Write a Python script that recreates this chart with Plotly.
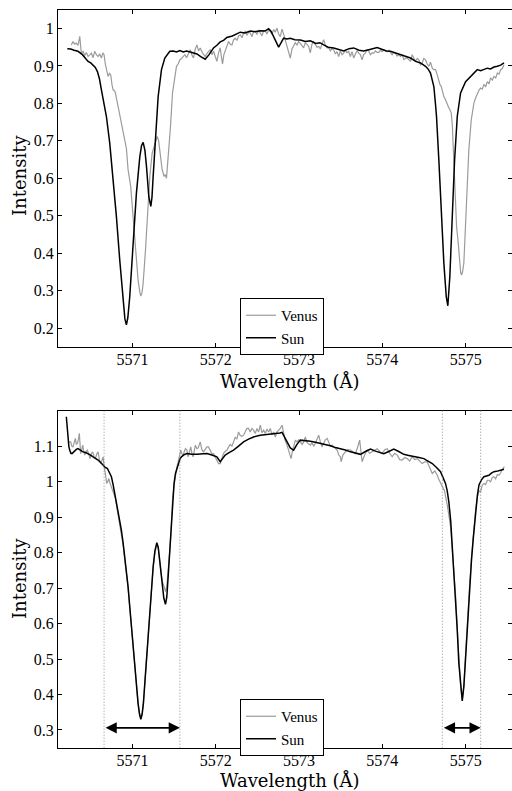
import plotly.graph_objects as go

# ---------------- data ----------------
TOP_SUN_WL = [5570.219, 5570.26, 5570.30, 5570.347, 5570.40, 5570.44, 5570.468, 5570.50, 5570.528, 5570.555,
              5570.580, 5570.605, 5570.628, 5570.660, 5570.688, 5570.728, 5570.768, 5570.808, 5570.848, 5570.888,
              5570.910, 5570.928, 5570.945, 5570.968, 5571.008, 5571.048, 5571.089, 5571.110, 5571.129, 5571.150,
              5571.169, 5571.197, 5571.221, 5571.235, 5571.249, 5571.277, 5571.309, 5571.349, 5571.389, 5571.449,
              5571.489, 5571.53, 5571.57, 5571.61, 5571.65, 5571.694, 5571.733, 5571.774, 5571.82, 5571.874,
              5571.92, 5571.974, 5572.014, 5572.054, 5572.094, 5572.134, 5572.20, 5572.25, 5572.294, 5572.35,
              5572.415, 5572.47, 5572.535, 5572.59, 5572.635, 5572.665, 5572.695, 5572.725, 5572.755, 5572.785,
              5572.815, 5572.855, 5572.895, 5572.95, 5573.016, 5573.076, 5573.136, 5573.20, 5573.25, 5573.296,
              5573.35, 5573.416, 5573.48, 5573.536, 5573.60, 5573.656, 5573.72, 5573.776, 5573.85, 5573.937,
              5574.00, 5574.05, 5574.097, 5574.157, 5574.218, 5574.28, 5574.338, 5574.40, 5574.458, 5574.518,
              5574.548, 5574.578, 5574.600, 5574.618, 5574.635, 5574.650, 5574.678, 5574.707, 5574.738, 5574.767,
              5574.786, 5574.810, 5574.839, 5574.867, 5574.899, 5574.939, 5574.999, 5575.059, 5575.10, 5575.139,
              5575.18, 5575.219, 5575.26, 5575.299, 5575.340, 5575.380, 5575.42, 5575.460]
TOP_SUN_I = [0.946, 0.945, 0.942, 0.939, 0.930, 0.921, 0.912, 0.908, 0.903, 0.896,
             0.885, 0.865, 0.836, 0.800, 0.765, 0.694, 0.605, 0.498, 0.382, 0.267,
             0.225, 0.209, 0.228, 0.284, 0.427, 0.560, 0.658, 0.688, 0.696, 0.675,
             0.632, 0.551, 0.525, 0.550, 0.605, 0.712, 0.818, 0.890, 0.921, 0.939,
             0.940, 0.937, 0.941, 0.937, 0.940, 0.937, 0.935, 0.932, 0.925, 0.918,
             0.930, 0.948, 0.955, 0.964, 0.968, 0.976, 0.980, 0.986, 0.990, 0.988,
             0.993, 0.991, 0.994, 0.993, 0.999, 0.992, 0.978, 0.962, 0.950, 0.962,
             0.974, 0.972, 0.974, 0.970, 0.969, 0.965, 0.967, 0.960, 0.962, 0.956,
             0.950, 0.948, 0.943, 0.940, 0.946, 0.948, 0.942, 0.940, 0.944, 0.949,
             0.944, 0.940, 0.939, 0.935, 0.930, 0.926, 0.921, 0.912, 0.908, 0.899,
             0.892, 0.881, 0.862, 0.845, 0.805, 0.765, 0.649, 0.516, 0.374, 0.284,
             0.260, 0.338, 0.498, 0.649, 0.765, 0.828, 0.858, 0.872, 0.882, 0.890,
             0.887, 0.891, 0.894, 0.892, 0.897, 0.899, 0.902, 0.908]

TOP_VENUS_WL = [5570.267, 5570.287, 5570.307, 5570.327, 5570.347, 5570.368, 5570.387, 5570.408, 5570.428, 5570.448,
                5570.468, 5570.488, 5570.508, 5570.528, 5570.548, 5570.568, 5570.588, 5570.608, 5570.628, 5570.645,
                5570.660, 5570.675, 5570.688, 5570.708, 5570.725, 5570.740, 5570.755, 5570.768, 5570.785, 5570.796,
                5570.812, 5570.828, 5570.848, 5570.868, 5570.888, 5570.908, 5570.928, 5570.948, 5570.965, 5570.980,
                5571.008, 5571.036, 5571.068, 5571.090, 5571.101, 5571.115, 5571.129, 5571.157, 5571.189, 5571.209,
                5571.237, 5571.269, 5571.297, 5571.315, 5571.329, 5571.357, 5571.381, 5571.395, 5571.409, 5571.429,
                5571.457, 5571.481, 5571.509, 5571.529, 5571.549, 5571.569, 5571.59, 5571.610, 5571.630, 5571.650,
                5571.670, 5571.694, 5571.713, 5571.733, 5571.754, 5571.774, 5571.794, 5571.814, 5571.84, 5571.874,
                5571.90, 5571.934, 5571.955, 5571.974, 5571.994, 5572.014, 5572.034, 5572.054, 5572.068, 5572.082,
                5572.098, 5572.114, 5572.134, 5572.154, 5572.175, 5572.195, 5572.215, 5572.235, 5572.255, 5572.275,
                5572.294, 5572.315, 5572.335, 5572.355, 5572.375, 5572.395, 5572.415, 5572.435, 5572.455, 5572.475,
                5572.495, 5572.515, 5572.535, 5572.555, 5572.575, 5572.595, 5572.615, 5572.635, 5572.655, 5572.675,
                5572.695, 5572.715, 5572.735, 5572.755, 5572.775, 5572.796, 5572.815, 5572.835, 5572.855, 5572.875,
                5572.895, 5572.915, 5572.935, 5572.955, 5572.975, 5572.995, 5573.015, 5573.035, 5573.055, 5573.075,
                5573.095, 5573.115, 5573.135, 5573.155, 5573.175, 5573.195, 5573.215, 5573.236, 5573.256, 5573.276,
                5573.296, 5573.316, 5573.336, 5573.356, 5573.376, 5573.396, 5573.416, 5573.436, 5573.456, 5573.476,
                5573.496, 5573.516, 5573.536, 5573.556, 5573.576, 5573.596, 5573.616, 5573.636, 5573.656, 5573.676,
                5573.696, 5573.716, 5573.736, 5573.756, 5573.776, 5573.796, 5573.817, 5573.837, 5573.857, 5573.877,
                5573.897, 5573.917, 5573.937, 5573.957, 5573.977, 5573.997, 5574.017, 5574.037, 5574.057, 5574.077,
                5574.097, 5574.117, 5574.137, 5574.157, 5574.177, 5574.197, 5574.218, 5574.238, 5574.258, 5574.278,
                5574.298, 5574.318, 5574.338, 5574.358, 5574.378, 5574.398, 5574.418, 5574.438, 5574.458, 5574.478,
                5574.498, 5574.518, 5574.538, 5574.558, 5574.578, 5574.599, 5574.618, 5574.638, 5574.659, 5574.678,
                5574.692, 5574.707, 5574.722, 5574.738, 5574.758, 5574.779, 5574.795, 5574.810, 5574.827, 5574.840,
                5574.851, 5574.870, 5574.891, 5574.911, 5574.930, 5574.940, 5574.951, 5574.962, 5574.978, 5574.999,
                5575.019, 5575.038, 5575.067, 5575.099, 5575.120, 5575.139, 5575.159, 5575.179, 5575.199, 5575.219,
                5575.240, 5575.260, 5575.280, 5575.299, 5575.320, 5575.339, 5575.360, 5575.380, 5575.400, 5575.420,
                5575.440, 5575.460]
TOP_VENUS_I = [0.956, 0.965, 0.958, 0.961, 0.955, 0.979, 0.932, 0.940, 0.928, 0.936,
               0.925, 0.930, 0.934, 0.922, 0.939, 0.930, 0.925, 0.932, 0.921, 0.935,
               0.930, 0.905, 0.890, 0.872, 0.880, 0.876, 0.850, 0.836, 0.834, 0.827,
               0.810, 0.792, 0.770, 0.738, 0.715, 0.694, 0.680, 0.623, 0.600, 0.578,
               0.498, 0.409, 0.329, 0.295, 0.286, 0.295, 0.320, 0.409, 0.516, 0.605,
               0.667, 0.694, 0.712, 0.700, 0.676, 0.623, 0.605, 0.610, 0.600, 0.649,
               0.738, 0.827, 0.872, 0.899, 0.905, 0.916, 0.920, 0.925, 0.930, 0.922,
               0.934, 0.943, 0.930, 0.921, 0.945, 0.956, 0.940, 0.948, 0.935, 0.925,
               0.935, 0.943, 0.930, 0.939, 0.925, 0.912, 0.935, 0.948, 0.925, 0.905,
               0.930, 0.939, 0.955, 0.965, 0.958, 0.956, 0.970, 0.974, 0.968, 0.980,
               0.983, 0.975, 0.988, 0.992, 0.982, 0.990, 0.988, 0.978, 0.992, 0.992,
               0.984, 0.996, 0.988, 0.980, 0.994, 0.994, 0.985, 0.996, 0.992, 0.985,
               0.997, 0.990, 1.001, 0.985, 0.978, 0.998, 0.985, 0.970, 0.955, 0.940,
               0.921, 0.945, 0.956, 0.962, 0.955, 0.965, 0.960, 0.952, 0.948, 0.962,
               0.958, 0.952, 0.935, 0.958, 0.965, 0.955, 0.950, 0.952, 0.945, 0.960,
               0.970, 0.955, 0.948, 0.948, 0.940, 0.946, 0.943, 0.932, 0.938, 0.925,
               0.940, 0.930, 0.934, 0.942, 0.935, 0.939, 0.925, 0.938, 0.921, 0.932,
               0.940, 0.934, 0.930, 0.916, 0.930, 0.935, 0.943, 0.939, 0.930, 0.935,
               0.934, 0.940, 0.936, 0.936, 0.942, 0.938, 0.943, 0.940, 0.938, 0.942,
               0.934, 0.930, 0.936, 0.934, 0.926, 0.930, 0.925, 0.930, 0.916, 0.921,
               0.921, 0.915, 0.912, 0.930, 0.920, 0.912, 0.920, 0.916, 0.903, 0.908,
               0.920, 0.916, 0.905, 0.899, 0.910, 0.894, 0.890, 0.890, 0.876, 0.858,
               0.850, 0.845, 0.830, 0.818, 0.810, 0.801, 0.790, 0.783, 0.774, 0.740,
               0.676, 0.560, 0.471, 0.427, 0.364, 0.348, 0.342, 0.350, 0.374, 0.471,
               0.587, 0.676, 0.756, 0.801, 0.815, 0.827, 0.835, 0.841, 0.838, 0.850,
               0.845, 0.858, 0.852, 0.868, 0.862, 0.872, 0.868, 0.881, 0.878, 0.890,
               0.893, 0.903]

BOT_SUN_WL = [5570.207, 5570.217, 5570.227, 5570.237, 5570.247, 5570.262, 5570.275, 5570.290, 5570.307, 5570.327,
              5570.347, 5570.377, 5570.407, 5570.438, 5570.468, 5570.498, 5570.528, 5570.558, 5570.588, 5570.618,
              5570.648, 5570.675, 5570.700, 5570.725, 5570.748, 5570.768, 5570.788, 5570.808, 5570.828, 5570.848,
              5570.868, 5570.888, 5570.908, 5570.928, 5570.948, 5570.968, 5570.988, 5571.008, 5571.029, 5571.048,
              5571.068, 5571.085, 5571.101, 5571.117, 5571.132, 5571.150, 5571.168, 5571.189, 5571.209, 5571.229,
              5571.249, 5571.270, 5571.293, 5571.310, 5571.329, 5571.343, 5571.357, 5571.377, 5571.397, 5571.413,
              5571.429, 5571.445, 5571.461, 5571.481, 5571.500, 5571.517, 5571.549, 5571.573, 5571.589, 5571.620,
              5571.654, 5571.709, 5571.774, 5571.834, 5571.894, 5571.954, 5572.014, 5572.054, 5572.084, 5572.114,
              5572.160, 5572.214, 5572.274, 5572.334, 5572.394, 5572.454, 5572.535, 5572.595, 5572.655, 5572.715,
              5572.770, 5572.796, 5572.826, 5572.856, 5572.895, 5572.935, 5572.975, 5573.016, 5573.076, 5573.136,
              5573.196, 5573.256, 5573.316, 5573.376, 5573.436, 5573.496, 5573.556, 5573.617, 5573.677, 5573.737,
              5573.797, 5573.857, 5573.917, 5573.977, 5574.017, 5574.077, 5574.137, 5574.197, 5574.257, 5574.317,
              5574.377, 5574.438, 5574.498, 5574.548, 5574.599, 5574.650, 5574.698, 5574.731, 5574.758, 5574.778,
              5574.798, 5574.820, 5574.839, 5574.860, 5574.879, 5574.899, 5574.918, 5574.939, 5574.959, 5574.978,
              5574.998, 5575.019, 5575.045, 5575.070, 5575.091, 5575.119, 5575.140, 5575.159, 5575.189, 5575.219,
              5575.249, 5575.279, 5575.309, 5575.339, 5575.369, 5575.399, 5575.430, 5575.460]
BOT_SUN_I = [1.183, 1.150, 1.126, 1.100, 1.089, 1.080, 1.079, 1.083, 1.087, 1.091,
             1.093, 1.088, 1.084, 1.082, 1.079, 1.075, 1.070, 1.066, 1.061, 1.054,
             1.046, 1.040, 1.037, 1.027, 1.014, 0.992, 0.967, 0.945, 0.920, 0.893,
             0.863, 0.828, 0.788, 0.748, 0.704, 0.648, 0.591, 0.530, 0.469, 0.420,
             0.375, 0.345, 0.330, 0.345, 0.375, 0.435, 0.497, 0.570, 0.638, 0.700,
             0.760, 0.805, 0.828, 0.815, 0.779, 0.748, 0.713, 0.672, 0.654, 0.675,
             0.732, 0.790, 0.845, 0.948, 0.995, 1.023, 1.051, 1.065, 1.070, 1.076,
             1.079, 1.077, 1.077, 1.079, 1.079, 1.075, 1.070, 1.056, 1.065, 1.075,
             1.082, 1.089, 1.100, 1.112, 1.120, 1.126, 1.131, 1.132, 1.133, 1.134,
             1.137, 1.139, 1.125, 1.112, 1.095, 1.089, 1.105, 1.117, 1.116, 1.114,
             1.111, 1.108, 1.104, 1.101, 1.096, 1.093, 1.089, 1.084, 1.080, 1.077,
             1.085, 1.092, 1.086, 1.082, 1.079, 1.085, 1.092, 1.085, 1.077, 1.074,
             1.072, 1.068, 1.065, 1.058, 1.051, 1.040, 1.028, 1.010, 0.995, 0.975,
             0.943, 0.890, 0.821, 0.750, 0.680, 0.582, 0.488, 0.422, 0.382, 0.422,
             0.506, 0.600, 0.690, 0.780, 0.840, 0.915, 0.960, 0.990, 1.005, 1.014,
             1.016, 1.018, 1.024, 1.028, 1.029, 1.030, 1.033, 1.035]

BOT_VENUS_WL = [5570.227, 5570.243, 5570.259, 5570.273, 5570.287, 5570.301, 5570.315, 5570.327, 5570.339, 5570.351,
                5570.363, 5570.379, 5570.392, 5570.404, 5570.416, 5570.428, 5570.444, 5570.459, 5570.476, 5570.492,
                5570.508, 5570.524, 5570.540, 5570.556, 5570.572, 5570.588, 5570.604, 5570.620, 5570.635, 5570.648,
                5570.660, 5570.668, 5570.680, 5570.692, 5570.704, 5570.716, 5570.728, 5570.740, 5570.755, 5570.768,
                5570.782, 5570.796, 5570.812, 5570.828, 5570.848, 5570.868, 5570.888, 5570.908, 5570.928, 5570.948,
                5570.968, 5570.988, 5571.008, 5571.029, 5571.048, 5571.068, 5571.085, 5571.101, 5571.117, 5571.132,
                5571.150, 5571.168, 5571.189, 5571.209, 5571.229, 5571.249, 5571.270, 5571.293, 5571.310, 5571.329,
                5571.343, 5571.357, 5571.381, 5571.397, 5571.413, 5571.429, 5571.445, 5571.461, 5571.481, 5571.500,
                5571.517, 5571.533, 5571.549, 5571.565, 5571.581, 5571.595, 5571.609, 5571.623, 5571.637, 5571.654,
                5571.669, 5571.685, 5571.701, 5571.714, 5571.729, 5571.745, 5571.757, 5571.774, 5571.790, 5571.814,
                5571.834, 5571.853, 5571.874, 5571.894, 5571.913, 5571.934, 5571.954, 5571.974, 5571.994, 5572.014,
                5572.034, 5572.054, 5572.074, 5572.094, 5572.114, 5572.135, 5572.155, 5572.175, 5572.195, 5572.214,
                5572.234, 5572.254, 5572.274, 5572.294, 5572.314, 5572.334, 5572.354, 5572.374, 5572.394, 5572.414,
                5572.434, 5572.454, 5572.475, 5572.495, 5572.515, 5572.535, 5572.555, 5572.575, 5572.595, 5572.615,
                5572.635, 5572.655, 5572.675, 5572.695, 5572.715, 5572.735, 5572.755, 5572.775, 5572.796, 5572.815,
                5572.835, 5572.856, 5572.880, 5572.904, 5572.920, 5572.935, 5572.956, 5572.976, 5572.996, 5573.016,
                5573.036, 5573.056, 5573.076, 5573.096, 5573.116, 5573.136, 5573.156, 5573.176, 5573.196, 5573.216,
                5573.236, 5573.256, 5573.276, 5573.296, 5573.316, 5573.337, 5573.357, 5573.377, 5573.397, 5573.417,
                5573.437, 5573.457, 5573.477, 5573.496, 5573.505, 5573.526, 5573.556, 5573.586, 5573.617, 5573.647,
                5573.677, 5573.700, 5573.728, 5573.745, 5573.757, 5573.787, 5573.817, 5573.847, 5573.877, 5573.907,
                5573.938, 5573.968, 5573.998, 5574.028, 5574.058, 5574.088, 5574.118, 5574.148, 5574.178, 5574.208,
                5574.238, 5574.268, 5574.298, 5574.328, 5574.358, 5574.388, 5574.418, 5574.448, 5574.478, 5574.508,
                5574.538, 5574.568, 5574.599, 5574.630, 5574.659, 5574.680, 5574.698, 5574.715, 5574.731, 5574.745,
                5574.758, 5574.778, 5574.798, 5574.820, 5574.839, 5574.860, 5574.879, 5574.899, 5574.918, 5574.939,
                5574.959, 5574.978, 5574.998, 5575.019, 5575.045, 5575.070, 5575.091, 5575.119, 5575.140, 5575.160,
                5575.179, 5575.199, 5575.219, 5575.240, 5575.260, 5575.279, 5575.299, 5575.320, 5575.339, 5575.360,
                5575.380, 5575.399, 5575.420, 5575.440, 5575.465]
BOT_VENUS_I = [1.108, 1.112, 1.112, 1.100, 1.098, 1.110, 1.122, 1.105, 1.108, 1.118,
               1.136, 1.079, 1.090, 1.103, 1.085, 1.075, 1.085, 1.089, 1.078, 1.065,
               1.080, 1.084, 1.070, 1.065, 1.078, 1.084, 1.062, 1.051, 1.060, 1.070,
               1.045, 1.028, 1.010, 0.995, 1.000, 1.009, 0.998, 0.990, 0.978, 0.967,
               0.960, 0.953, 0.930, 0.910, 0.880, 0.849, 0.823, 0.786, 0.747, 0.700,
               0.646, 0.592, 0.528, 0.470, 0.418, 0.376, 0.347, 0.333, 0.346, 0.377,
               0.433, 0.498, 0.568, 0.640, 0.702, 0.758, 0.800, 0.822, 0.812, 0.780,
               0.752, 0.720, 0.704, 0.690, 0.704, 0.740, 0.795, 0.850, 0.945, 0.990,
               1.020, 1.040, 1.056, 1.075, 1.089, 1.078, 1.075, 1.085, 1.093, 1.089,
               1.070, 1.085, 1.098, 1.079, 1.070, 1.090, 1.103, 1.093, 1.095, 1.112,
               1.090, 1.084, 1.092, 1.098, 1.098, 1.088, 1.079, 1.079, 1.068, 1.060,
               1.051, 1.051, 1.065, 1.080, 1.085, 1.089, 1.098, 1.105, 1.100, 1.112,
               1.125, 1.120, 1.140, 1.130, 1.128, 1.131, 1.140, 1.150, 1.150, 1.140,
               1.150, 1.145, 1.136, 1.150, 1.140, 1.159, 1.138, 1.145, 1.136, 1.148,
               1.140, 1.150, 1.132, 1.140, 1.126, 1.140, 1.145, 1.150, 1.159, 1.135,
               1.115, 1.103, 1.085, 1.065, 1.085, 1.100, 1.117, 1.112, 1.118, 1.112,
               1.105, 1.112, 1.126, 1.110, 1.105, 1.103, 1.110, 1.100, 1.108, 1.118,
               1.131, 1.112, 1.098, 1.108, 1.118, 1.122, 1.108, 1.100, 1.103, 1.098,
               1.092, 1.089, 1.075, 1.070, 1.056, 1.075, 1.084, 1.090, 1.089, 1.084,
               1.079, 1.095, 1.117, 1.080, 1.056, 1.075, 1.089, 1.080, 1.084, 1.090,
               1.093, 1.085, 1.079, 1.090, 1.093, 1.080, 1.070, 1.080, 1.075, 1.062,
               1.061, 1.068, 1.065, 1.058, 1.070, 1.062, 1.065, 1.058, 1.051, 1.056,
               1.056, 1.040, 1.023, 1.030, 1.018, 1.005, 0.995, 0.990, 0.981, 0.975,
               0.962, 0.935, 0.906, 0.870, 0.810, 0.745, 0.680, 0.585, 0.490, 0.424,
               0.385, 0.424, 0.508, 0.602, 0.700, 0.785, 0.850, 0.920, 0.955, 0.975,
               0.971, 0.990, 0.995, 0.992, 1.004, 1.004, 1.000, 1.012, 1.014, 1.008,
               1.020, 1.018, 1.025, 1.035, 1.042]

X_TICKS = [5571, 5572, 5573, 5574, 5575]
X_TICK_LABELS = ["5571", "5572", "5573", "5574", "5575"]
TOP_Y_TICKS = [0.2, 0.3, 0.4, 0.5, 0.6, 0.7, 0.8, 0.9, 1.0]
TOP_Y_LABELS = ["0.2", "0.3", "0.4", "0.5", "0.6", "0.7", "0.8", "0.9", "1"]
BOT_Y_TICKS = [0.3, 0.4, 0.5, 0.6, 0.7, 0.8, 0.9, 1.0, 1.1]
BOT_Y_LABELS = ["0.3", "0.4", "0.5", "0.6", "0.7", "0.8", "0.9", "1", "1.1"]

LINE_BOUNDS = [5570.66, 5571.57, 5574.72, 5575.18]   # integration windows
ARROW_Y = 0.306
X_RANGE = [5570.107, 5575.55]
TOP_Y_RANGE = [0.15, 1.05]
BOT_Y_RANGE = [0.25, 1.2]

# ---------------- figure ----------------
VENUS_COLOR = "#9b9b9b"
SUN_COLOR = "#000000"
FONT = "Liberation Serif, Times New Roman, serif"
TITLE_FONT = "DejaVu Serif, serif"

fig = go.Figure()
fig.add_trace(go.Scatter(x=TOP_VENUS_WL, y=TOP_VENUS_I, mode="lines", name="Venus",
                         line=dict(color=VENUS_COLOR, width=1.2), xaxis="x", yaxis="y", legend="legend"))
fig.add_trace(go.Scatter(x=TOP_SUN_WL, y=TOP_SUN_I, mode="lines", name="Sun",
                         line=dict(color=SUN_COLOR, width=1.5), xaxis="x", yaxis="y", legend="legend"))
fig.add_trace(go.Scatter(x=BOT_VENUS_WL, y=BOT_VENUS_I, mode="lines", name="Venus",
                         line=dict(color=VENUS_COLOR, width=1.2), xaxis="x2", yaxis="y2", legend="legend2"))
fig.add_trace(go.Scatter(x=BOT_SUN_WL, y=BOT_SUN_I, mode="lines", name="Sun",
                         line=dict(color=SUN_COLOR, width=1.5), xaxis="x2", yaxis="y2", legend="legend2"))

axis_common = dict(showline=True, linecolor="black", linewidth=1, mirror="ticks", ticks="inside",
                   ticklen=4, tickcolor="black", tickwidth=1, showgrid=False, zeroline=False,
                   tickfont=dict(family=FONT, size=16, color="black"))

XDOM = [58 / 512, 511.5 / 512]
legend_common = dict(xanchor="left", yanchor="top", bgcolor="white", bordercolor="black", borderwidth=1,
                     font=dict(family=FONT, size=15, color="black"), tracegroupgap=0, itemwidth=30)
fig.update_layout(
    width=512, height=791, margin=dict(l=0, r=0, t=0, b=0),
    paper_bgcolor="white", plot_bgcolor="white", showlegend=True,
    xaxis=dict(domain=XDOM, range=X_RANGE, anchor="y", tickvals=X_TICKS, ticktext=X_TICK_LABELS,
               ticklabelstandoff=-2, **axis_common),
    yaxis=dict(domain=[1 - 347 / 791, 1 - 9.7 / 791], range=TOP_Y_RANGE, anchor="x",
               tickvals=TOP_Y_TICKS, ticktext=TOP_Y_LABELS, **axis_common),
    xaxis2=dict(domain=XDOM, range=X_RANGE, anchor="y2", tickvals=X_TICKS, ticktext=X_TICK_LABELS,
                ticklabelstandoff=-2, **axis_common),
    yaxis2=dict(domain=[1 - 747.7 / 791, 1 - 410.7 / 791], range=BOT_Y_RANGE, anchor="x2",
                tickvals=BOT_Y_TICKS, ticktext=BOT_Y_LABELS, **axis_common),
    legend=dict(x=240 / 512, y=1 - 298 / 791, **legend_common),
    legend2=dict(x=240 / 512, y=1 - 699 / 791, **legend_common),
)

# dotted window lines on the lower panel
for xb in LINE_BOUNDS:
    fig.add_shape(type="line", xref="x2", yref="y2 domain", x0=xb, x1=xb, y0=0, y1=1,
                  line=dict(color="#8c8c8c", width=1, dash="1px,2px"))

# double-headed arrows
for x0, x1 in [(LINE_BOUNDS[0], LINE_BOUNDS[1]), (LINE_BOUNDS[2], LINE_BOUNDS[3])]:
    fig.add_annotation(x=x1, y=ARROW_Y, ax=x0, ay=ARROW_Y, xref="x2", yref="y2", axref="x2", ayref="y2",
                       text="", showarrow=True, arrowhead=2, startarrowhead=2, arrowside="end+start",
                       arrowsize=1.4, startarrowsize=1.4, arrowwidth=1.6, arrowcolor="black",
                       standoff=0, startstandoff=0)

# axis titles
title_font = dict(family=TITLE_FONT, size=18, color="black")
for yc in [(1 - 176 / 791), (1 - 579 / 791)]:
    fig.add_annotation(x=19 / 512, y=yc, xref="paper", yref="paper", text="Intensity", textangle=-90,
                       showarrow=False, font=title_font, xanchor="center", yanchor="middle")
for yc in [(1 - 381 / 791), (1 - 780 / 791)]:
    fig.add_annotation(x=290 / 512, y=yc, xref="paper", yref="paper", text="Wavelength (Å)",
                       showarrow=False, font=title_font, xanchor="center", yanchor="middle")

fig.write_html("out.html")
